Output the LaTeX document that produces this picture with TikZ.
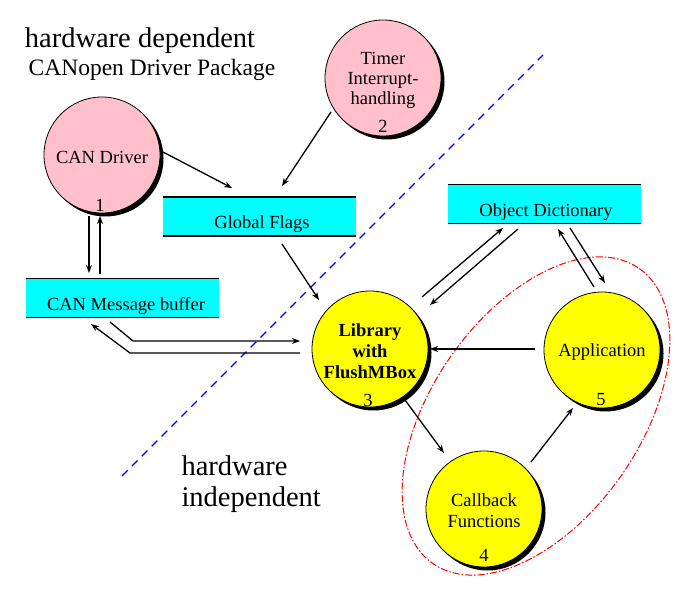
\documentclass[tikz,border=0pt]{standalone}
\usepackage{fontspec}
\setmainfont{Liberation Serif}
\usetikzlibrary{arrows.meta}
\definecolor{cpink}{HTML}{FFC0CB}
\definecolor{ccyan}{HTML}{00FFFF}
\definecolor{cyel}{HTML}{FFFF00}
\begin{document}
\begin{tikzpicture}[x=1pt,y=-1pt,
  circ/.style={circle,draw,line width=0.8pt,minimum size=116pt,inner sep=0pt},
  shad/.style={circle,fill=black,minimum size=116pt,inner sep=0pt},
  box/.style={fill=ccyan,minimum width=193pt,minimum height=39pt,inner sep=0pt},
  lbl/.style={font=\fontsize{18.5}{22}\selectfont},
  arr/.style={-{Stealth[length=8pt,width=6pt]},line width=1.3pt}]
\useasboundingbox (0,0) rectangle (691,593);
\draw[blue,line width=1.3pt,dash pattern=on 8pt off 6pt] (122,476) -- (543,55);
% shadows
\foreach \x/\y in {102/155,383/78,370/349,602/350,484/509}
  \node[shad] at (\x+3.5,\y+3.5) {};
\node[circ,fill=cpink] (drv) at (102,155) {};
\node[lbl] (drvt) at (102,157) {CAN Driver};
\node[lbl] (n1) at (100,205) {1};
\node[circ,fill=cpink] (tim) at (383,78) {};
\node[align=center,font=\fontsize{18.5}{20}\selectfont] (timt) at (383,80) {Timer\\Interrupt-\\handling};
\node[lbl] (n2) at (383,126) {2};
\node[circ,fill=cyel] (lib) at (370,349) {};
\node[align=center,font=\bfseries\fontsize{18.5}{21}\selectfont] (libt) at (370,351) {Library\\with\\FlushMBox};
\node[lbl] (n3) at (368,400) {3};
\node[circ,fill=cyel] (app) at (602,350) {};
\node[lbl] (appt) at (602,352) {Application};
\node[lbl] (n5) at (601,400) {5};
\node[circ,fill=cyel] (cb) at (484,509) {};
\node[align=center,font=\fontsize{18.5}{21}\selectfont] (cbt) at (484,511) {Callback\\Functions};
\node[lbl] (n4) at (484,555) {4};
% boxes
\node[box] (gf) at (259.5,216.5) {};
\draw[line width=1.5pt] (gf.north west) -- (gf.north east) (gf.south west) -- (gf.south east);
\node[lbl] (gft) at (262,224) {Global Flags};
\node[box] (buf) at (122.5,298) {};
\draw[line width=1.5pt] (buf.north west) -- (buf.north east) (buf.south west) -- (buf.south east);
\node[lbl] (buft) at (126,306) {CAN Message\ buffer};
\node[box] (od) at (544.5,204) {};
\draw[line width=1.5pt] (od.north west) -- (od.north east) (od.south west) -- (od.south east);
\node[lbl] (odt) at (546,212) {Object Dictionary};
% ellipse
\draw[red,line width=1pt,dash pattern=on 7pt off 2pt on 1.5pt off 2pt,rotate around={55:(536,416)}] (536,416) ellipse [x radius=180,y radius=104];
% titles
\node[font=\fontsize{28.5}{30}\selectfont] (t1) at (140,41) {hardware dependent};
\node[font=\fontsize{23.5}{26}\selectfont] (t2) at (152,70) {CANopen Driver Package};
\node[font=\fontsize{28.5}{31}\selectfont,align=left,anchor=north west] (t3) at (178,452) {hardware\\independent};
% arrows
\coordinate (a1) at (163,152); \coordinate (a2) at (232,188);
\draw[arr] (a1) -- (a2);
\coordinate (b1) at (331,112); \coordinate (b2) at (282,186);
\draw[arr] (b1) -- (b2);
\coordinate (c1) at (282,244); \coordinate (c2) at (319,300);
\draw[arr] (c1) -- (c2);
\coordinate (d1) at (89,216); \coordinate (d2) at (89,273);
\draw[arr] (d1) -- (d2);
\coordinate (e1) at (100,274); \coordinate (e2) at (100,216);
\draw[arr] (e1) -- (e2);
\coordinate (f1) at (110,322); \coordinate (f2) at (300,341);
\draw[arr] (f1) -- (133,341) -- (f2);
\coordinate (g1) at (300,353); \coordinate (g2) at (91,324);
\draw[arr] (g1) -- (130,353) -- (g2);
\coordinate (h1) at (422,297); \coordinate (h2) at (503,228);
\draw[arr] (h1) -- (h2);
\coordinate (i1) at (518,229); \coordinate (i2) at (430,305);
\draw[arr] (i1) -- (i2);
\coordinate (j1) at (594,287); \coordinate (j2) at (558,229);
\draw[arr] (j1) -- (j2);
\coordinate (k1) at (570,228); \coordinate (k2) at (605,283);
\draw[arr] (k1) -- (k2);
\coordinate (l1) at (535,349); \coordinate (l2) at (430,349);
\draw[arr] (l1) -- (l2);
\coordinate (m1) at (405,400); \coordinate (m2) at (444,453);
\draw[arr] (m1) -- (m2);
\coordinate (o1) at (531,462); \coordinate (o2) at (573,408);
\draw[arr] (o1) -- (o2);
\end{tikzpicture}
\end{document}
